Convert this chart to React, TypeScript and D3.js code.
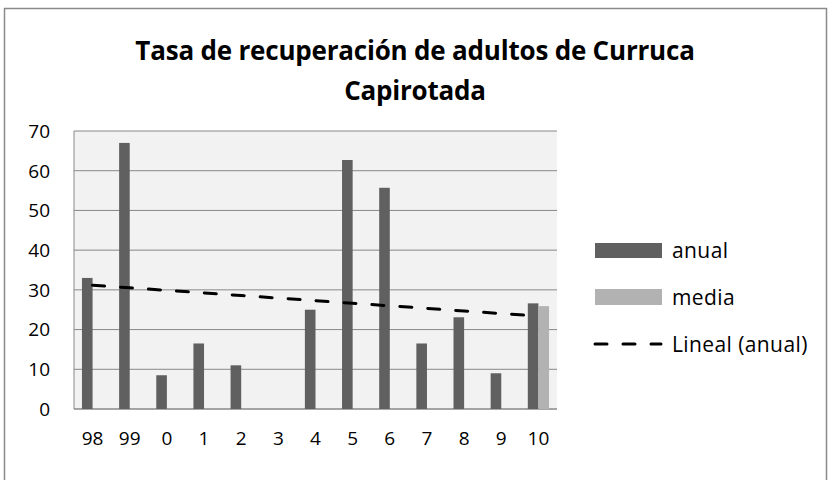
import React from 'react';
import * as d3 from 'd3';

const categories = ['98', '99', '0', '1', '2', '3', '4', '5', '6', '7', '8', '9', '10'];
const anual = [33, 67, 8.5, 16.5, 11, 0, 25, 62.7, 55.7, 16.5, 23.1, 9, 26.6];
const media = [null, null, null, null, null, null, null, null, null, null, null, null, 25.9];
const yTicks = [0, 10, 20, 30, 40, 50, 60, 70];
const titleLines = ['Tasa de recuperación de adultos de Curruca', 'Capirotada'];
const legendItems = ['anual', 'media', 'Lineal (anual)'];

const FONT = '"Open Sans", Lato, sans-serif';

function App() {
  const width = 832;
  const height = 480;
  const plot = { left: 74, right: 557, top: 131, bottom: 409 };

  const x = d3.scaleBand().domain(categories).range([plot.left, plot.right]).padding(0);
  const y = d3.scaleLinear().domain([0, 70]).range([plot.bottom, plot.top]);
  const barW = x.bandwidth() / 3.5;

  // linear trend of "anual" (least squares, like Excel)
  const xs = anual.map((_, i) => i + 1);
  const mx = d3.mean(xs) as number;
  const my = d3.mean(anual) as number;
  const slope =
    d3.sum(xs, (v, i) => (v - mx) * (anual[i] - my)) / d3.sum(xs, (v) => (v - mx) * (v - mx));
  const intercept = my - slope * mx;
  const trend = d3
    .line<number>()
    .x((_, i) => (x(categories[i]) as number) + x.bandwidth() / 2)
    .y((v) => y(intercept + slope * v));

  const legendX = 595;
  const legendY = [250, 297, 344];

  return (
    <svg
      width={width}
      height={height}
      style={{ position: 'absolute', left: 0, top: 0 }}
      fontFamily={FONT}
    >
      <rect x={0} y={0} width={width} height={height} fill="#fff" />
      <rect x={4.5} y={8.5} width={822} height={480} fill="#fff" stroke="#8a8a8a" strokeWidth={1.5} />

      {titleLines.map((t, i) => (
        <text
          key={t}
          x={415}
          y={60 + i * 40}
          textAnchor="middle"
          fontSize={26}
          fontWeight="bold"
          letterSpacing={-0.2}
          fill="#000"
        >
          {t}
        </text>
      ))}

      <rect
        x={plot.left}
        y={plot.top}
        width={plot.right - plot.left}
        height={plot.bottom - plot.top}
        fill="#f2f2f2"
      />
      {yTicks.map((t) => (
        <line
          key={t}
          x1={plot.left}
          x2={plot.right}
          y1={y(t)}
          y2={y(t)}
          stroke="#888"
          strokeWidth={t === 0 ? 1.5 : 1}
        />
      ))}
      <line x1={plot.left} x2={plot.left} y1={plot.top} y2={plot.bottom} stroke="#888" />

      {categories.map((c, i) => {
        const cx = (x(c) as number) + x.bandwidth() / 2;
        return (
          <g key={c}>
            <rect x={cx - barW} y={y(anual[i])} width={barW} height={plot.bottom - y(anual[i])} fill="#606060" />
            {media[i] != null && (
              <rect
                x={cx}
                y={y(media[i] as number)}
                width={barW}
                height={plot.bottom - y(media[i] as number)}
                fill="#b2b2b2"
              />
            )}
          </g>
        );
      })}

      <path
        d={trend(xs) as string}
        fill="none"
        stroke="#000"
        strokeWidth={3}
        strokeDasharray="12 16"
        strokeLinecap="round"
      />

      {yTicks.map((t) => (
        <text key={t} x={50} y={y(t)} dy="0.36em" textAnchor="end" fontSize={19} fill="#000">
          {t}
        </text>
      ))}
      {categories.map((c) => (
        <text
          key={c}
          x={(x(c) as number) + x.bandwidth() / 2}
          y={438}
          dy="0.36em"
          textAnchor="middle"
          fontSize={19}
          fill="#000"
        >
          {c}
        </text>
      ))}

      <rect x={legendX} y={legendY[0] - 7} width={67} height={15} fill="#606060" />
      <rect x={legendX} y={legendY[1] - 8} width={67} height={16} fill="#b2b2b2" />
      <line
        x1={legendX}
        x2={legendX + 66}
        y1={legendY[2]}
        y2={legendY[2]}
        stroke="#000"
        strokeWidth={3}
        strokeDasharray="12 16"
        strokeLinecap="round"
      />
      {legendItems.map((t, i) => (
        <text key={t} x={672} y={legendY[i]} dy="0.36em" fontSize={21} letterSpacing={0.4} fill="#000">
          {t}
        </text>
      ))}
    </svg>
  );
}

export default App;
